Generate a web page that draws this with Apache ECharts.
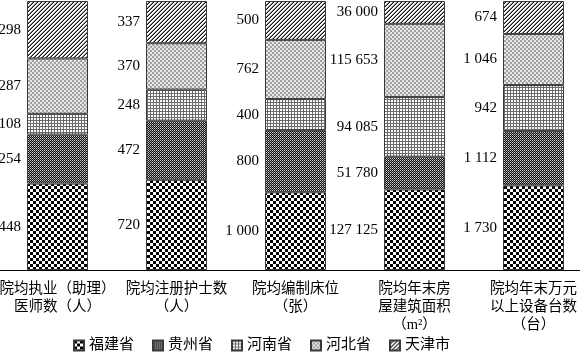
<!DOCTYPE html>
<html>
<head>
<meta charset="utf-8">
<script src="https://cdn.jsdelivr.net/npm/echarts@6/dist/echarts.min.js"></script>
<style>html,body{margin:0;padding:0;background:#fff;}#c{width:580px;height:356px;}</style>
</head>
<body>
<div id="c"></div>
<script>
const categories = [
  '院均执业（助理）\n医师数（人）',
  '院均注册护士数\n（人）',
  '院均编制床位\n（张）',
  '院均年末房\n屋建筑面积\n（m²）',
  '院均年末万元\n以上设备台数\n（台）'
];
const seriesNames = ['福建省', '贵州省', '河南省', '河北省', '天津市'];
const fujian  = [448, 720, 1000, 127125, 1730];
const guizhou = [254, 472, 800, 51780, 1112];
const henan   = [108, 248, 400, 94085, 942];
const hebei   = [287, 370, 762, 115653, 1046];
const tianjin = [298, 337, 500, 36000, 674];

const rawSeries = [fujian, guizhou, henan, hebei, tianjin];
const totals = categories.map((_, i) => rawSeries.reduce((s, arr) => s + arr[i], 0));

function makeTile(size, draw) {
  const c = document.createElement('canvas');
  c.width = size; c.height = size;
  const g = c.getContext('2d');
  draw(g, size);
  return c;
}
const patterns = [
  // 福建省: checkerboard
  makeTile(6, (g) => { g.fillStyle = '#fff'; g.fillRect(0,0,6,6); g.fillStyle = '#000'; g.fillRect(0,0,3,3); g.fillRect(3,3,3,3); }),
  // 贵州省: dark cross-hatch
  makeTile(4, (g) => {
    g.fillStyle = '#111'; g.fillRect(0,0,4,4);
    for (let x = 0; x < 4; x++) for (let y = 0; y < 4; y++) {
      if (x % 2 === 0 && y % 2 === 0) { g.fillStyle = '#d0d0d0'; g.fillRect(x,y,1,1); }
      else if (x % 2 === 1 && y % 2 === 1) { g.fillStyle = '#888'; g.fillRect(x,y,1,1); }
    }
  }),
  // 河南省: grid
  makeTile(3, (g) => { g.fillStyle = '#fff'; g.fillRect(0,0,3,3); g.fillStyle = '#6a6a6a'; g.fillRect(0,0,3,1); g.fillRect(0,0,1,3); }),
  // 河北省: light checker
  makeTile(4, (g) => { g.fillStyle = '#e8e8e8'; g.fillRect(0,0,4,4); g.fillStyle = '#a0a0a0'; g.fillRect(0,0,2,2); g.fillRect(2,2,2,2); }),
  // 天津市: diagonal lines
  makeTile(4, (g) => {
    g.fillStyle = '#fff'; g.fillRect(0,0,4,4);
    for (let x = 0; x < 4; x++) for (let y = 0; y < 4; y++) {
      const m = (x + y) % 4;
      if (m === 3) { g.fillStyle = '#111'; g.fillRect(x,y,1,1); }
      else if (m === 2) { g.fillStyle = '#8a8a8a'; g.fillRect(x,y,1,1); }
    }
  })
];

function fmt(v) {
  return String(v).replace(/\B(?=(\d{3})+(?!\d))/g, ' ');
}

const FONT = '"Liberation Serif", "Noto Sans CJK SC", serif';

const series = seriesNames.map((name, k) => ({
  name: name,
  type: 'bar',
  stack: 'total',
  barWidth: 61,
  data: rawSeries[k].map((v, i) => v / totals[i] * 100),
  itemStyle: {
    color: { image: patterns[k], repeat: 'repeat' },
    borderColor: '#3a3a3a',
    borderWidth: 1
  },
  label: {
    show: true,
    position: 'left',
    distance: 6,
    color: '#000',
    fontSize: 15,
    fontFamily: FONT,
    formatter: (p) => fmt(rawSeries[k][p.dataIndex])
  },
  emphasis: { disabled: true }
}));

const chart = echarts.init(document.getElementById('c'), null, { renderer: 'canvas' });
chart.setOption({
  animation: false,
  backgroundColor: '#fff',
  grid: { left: -2, width: 595, top: 1, bottom: 86, containLabel: false, outerBoundsMode: 'none' },
  legend: {
    left: 73,
    bottom: 3,
    padding: 0,
    itemWidth: 10,
    itemHeight: 10,
    itemGap: 18,
    icon: 'rect',
    textStyle: { fontSize: 15, color: '#000', fontFamily: FONT },
    data: seriesNames
  },
  xAxis: {
    type: 'category',
    data: categories,
    axisLine: { show: true, lineStyle: { color: '#000', width: 1 } },
    axisTick: { show: false },
    axisLabel: {
      interval: 0,
      margin: 10,
      color: '#000',
      fontSize: 14.5,
      lineHeight: 18,
      fontFamily: FONT
    }
  },
  yAxis: {
    type: 'value',
    min: 0,
    max: 100,
    show: false,
    splitLine: { show: false }
  },
  series: series
});
</script>
</body>
</html>
